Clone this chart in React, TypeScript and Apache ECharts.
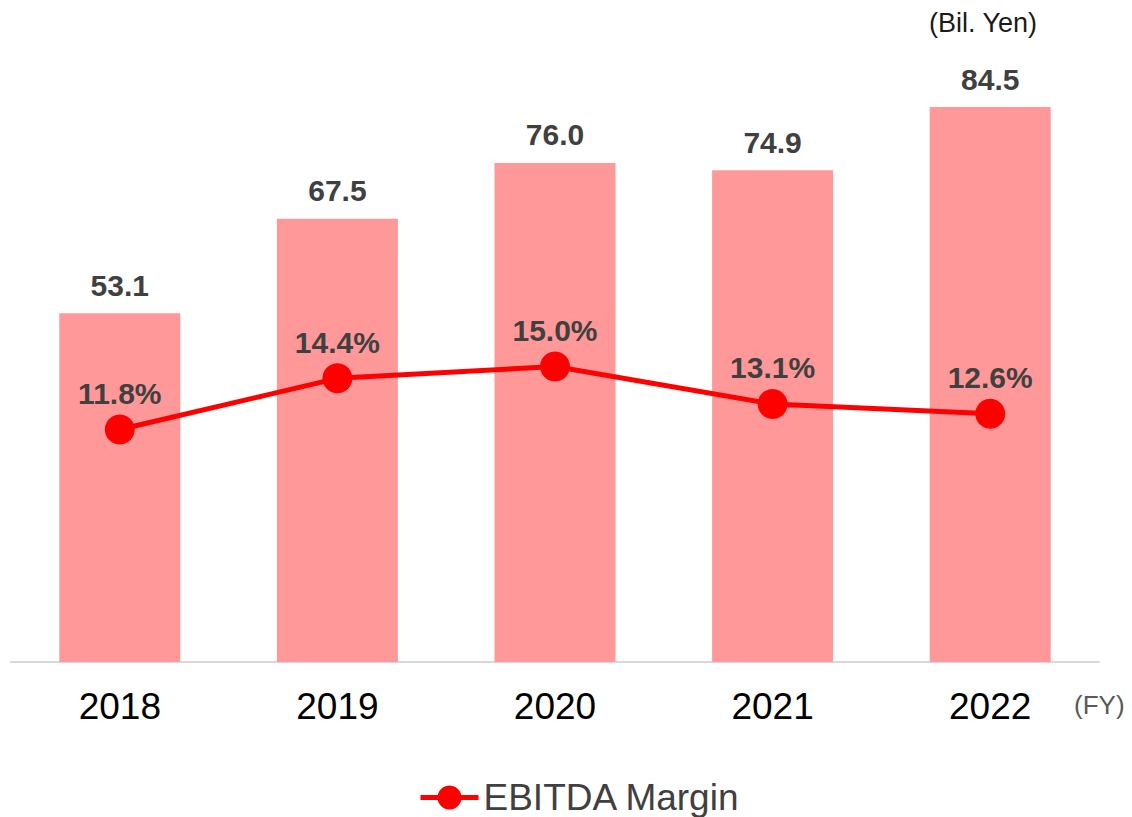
import React, { useEffect, useRef } from "react";
import * as echarts from "echarts";

const categories = ["2018", "2019", "2020", "2021", "2022"];
const ebitda = [53.1, 67.5, 76.0, 74.9, 84.5];
const margin = [11.8, 14.4, 15.0, 13.1, 12.6];

export default function App() {
  const ref = useRef<HTMLDivElement>(null);
  useEffect(() => {
    document.body.style.margin = "0";
    const chart = echarts.init(ref.current!, undefined, { renderer: "svg" });
    chart.setOption({
      animation: false,
      backgroundColor: "#ffffff",
      textStyle: { fontFamily: "Liberation Sans, Arial, sans-serif" },
      grid: { left: 11, right: 33, top: 71, height: 591 },
      legend: {
        data: ["EBITDA Margin"],
        left: 418,
        top: 779,
        padding: 0,
        itemWidth: 58,
        itemHeight: 30,
        itemGap: 4,
        lineStyle: { width: 5, color: "#ff0000" },
        textStyle: { fontSize: 37, color: "#404040", fontFamily: "Liberation Sans, Arial, sans-serif" },
      },
      xAxis: {
        type: "category",
        data: categories,
        axisLine: { lineStyle: { color: "#d9d9d9", width: 2 } },
        axisTick: { show: false },
        axisLabel: { fontSize: 37, color: "#000000", margin: 26 },
      },
      yAxis: [
        { type: "value", min: 0, max: 90, show: false, splitLine: { show: false } },
        { type: "value", min: 0, max: 30, show: false, splitLine: { show: false } },
      ],
      graphic: [
        {
          type: "text",
          left: 929,
          top: 9,
          style: { text: "(Bil. Yen)", fontSize: 27, fill: "#1a1a1a", fontFamily: "Liberation Sans, Arial, sans-serif" },
        },
        {
          type: "text",
          left: 1074,
          top: 692,
          style: { text: "(FY)", fontSize: 26, fill: "#595959", fontFamily: "Liberation Sans, Arial, sans-serif" },
        },
      ],
      series: [
        {
          name: "EBITDA",
          type: "bar",
          data: ebitda,
          barWidth: 121,
          itemStyle: { color: "#ff9999" },
          label: {
            show: true,
            position: "top",
            distance: 13,
            fontSize: 30,
            fontWeight: "bold",
            color: "#404040",
            formatter: (p: any) => Number(p.value).toFixed(1),
          },
        },
        {
          name: "EBITDA Margin",
          type: "line",
          yAxisIndex: 1,
          data: margin,
          symbol: "circle",
          symbolSize: 30,
          lineStyle: { color: "#ff0000", width: 5 },
          itemStyle: { color: "#ff0000" },
          label: {
            show: true,
            position: "top",
            distance: 6,
            fontSize: 30,
            fontWeight: "bold",
            color: "#404040",
            formatter: (p: any) => Number(p.value).toFixed(1) + "%",
          },
        },
      ],
    });
    return () => chart.dispose();
  }, []);
  return <div ref={ref} style={{ width: 1132, height: 817 }} />;
}
